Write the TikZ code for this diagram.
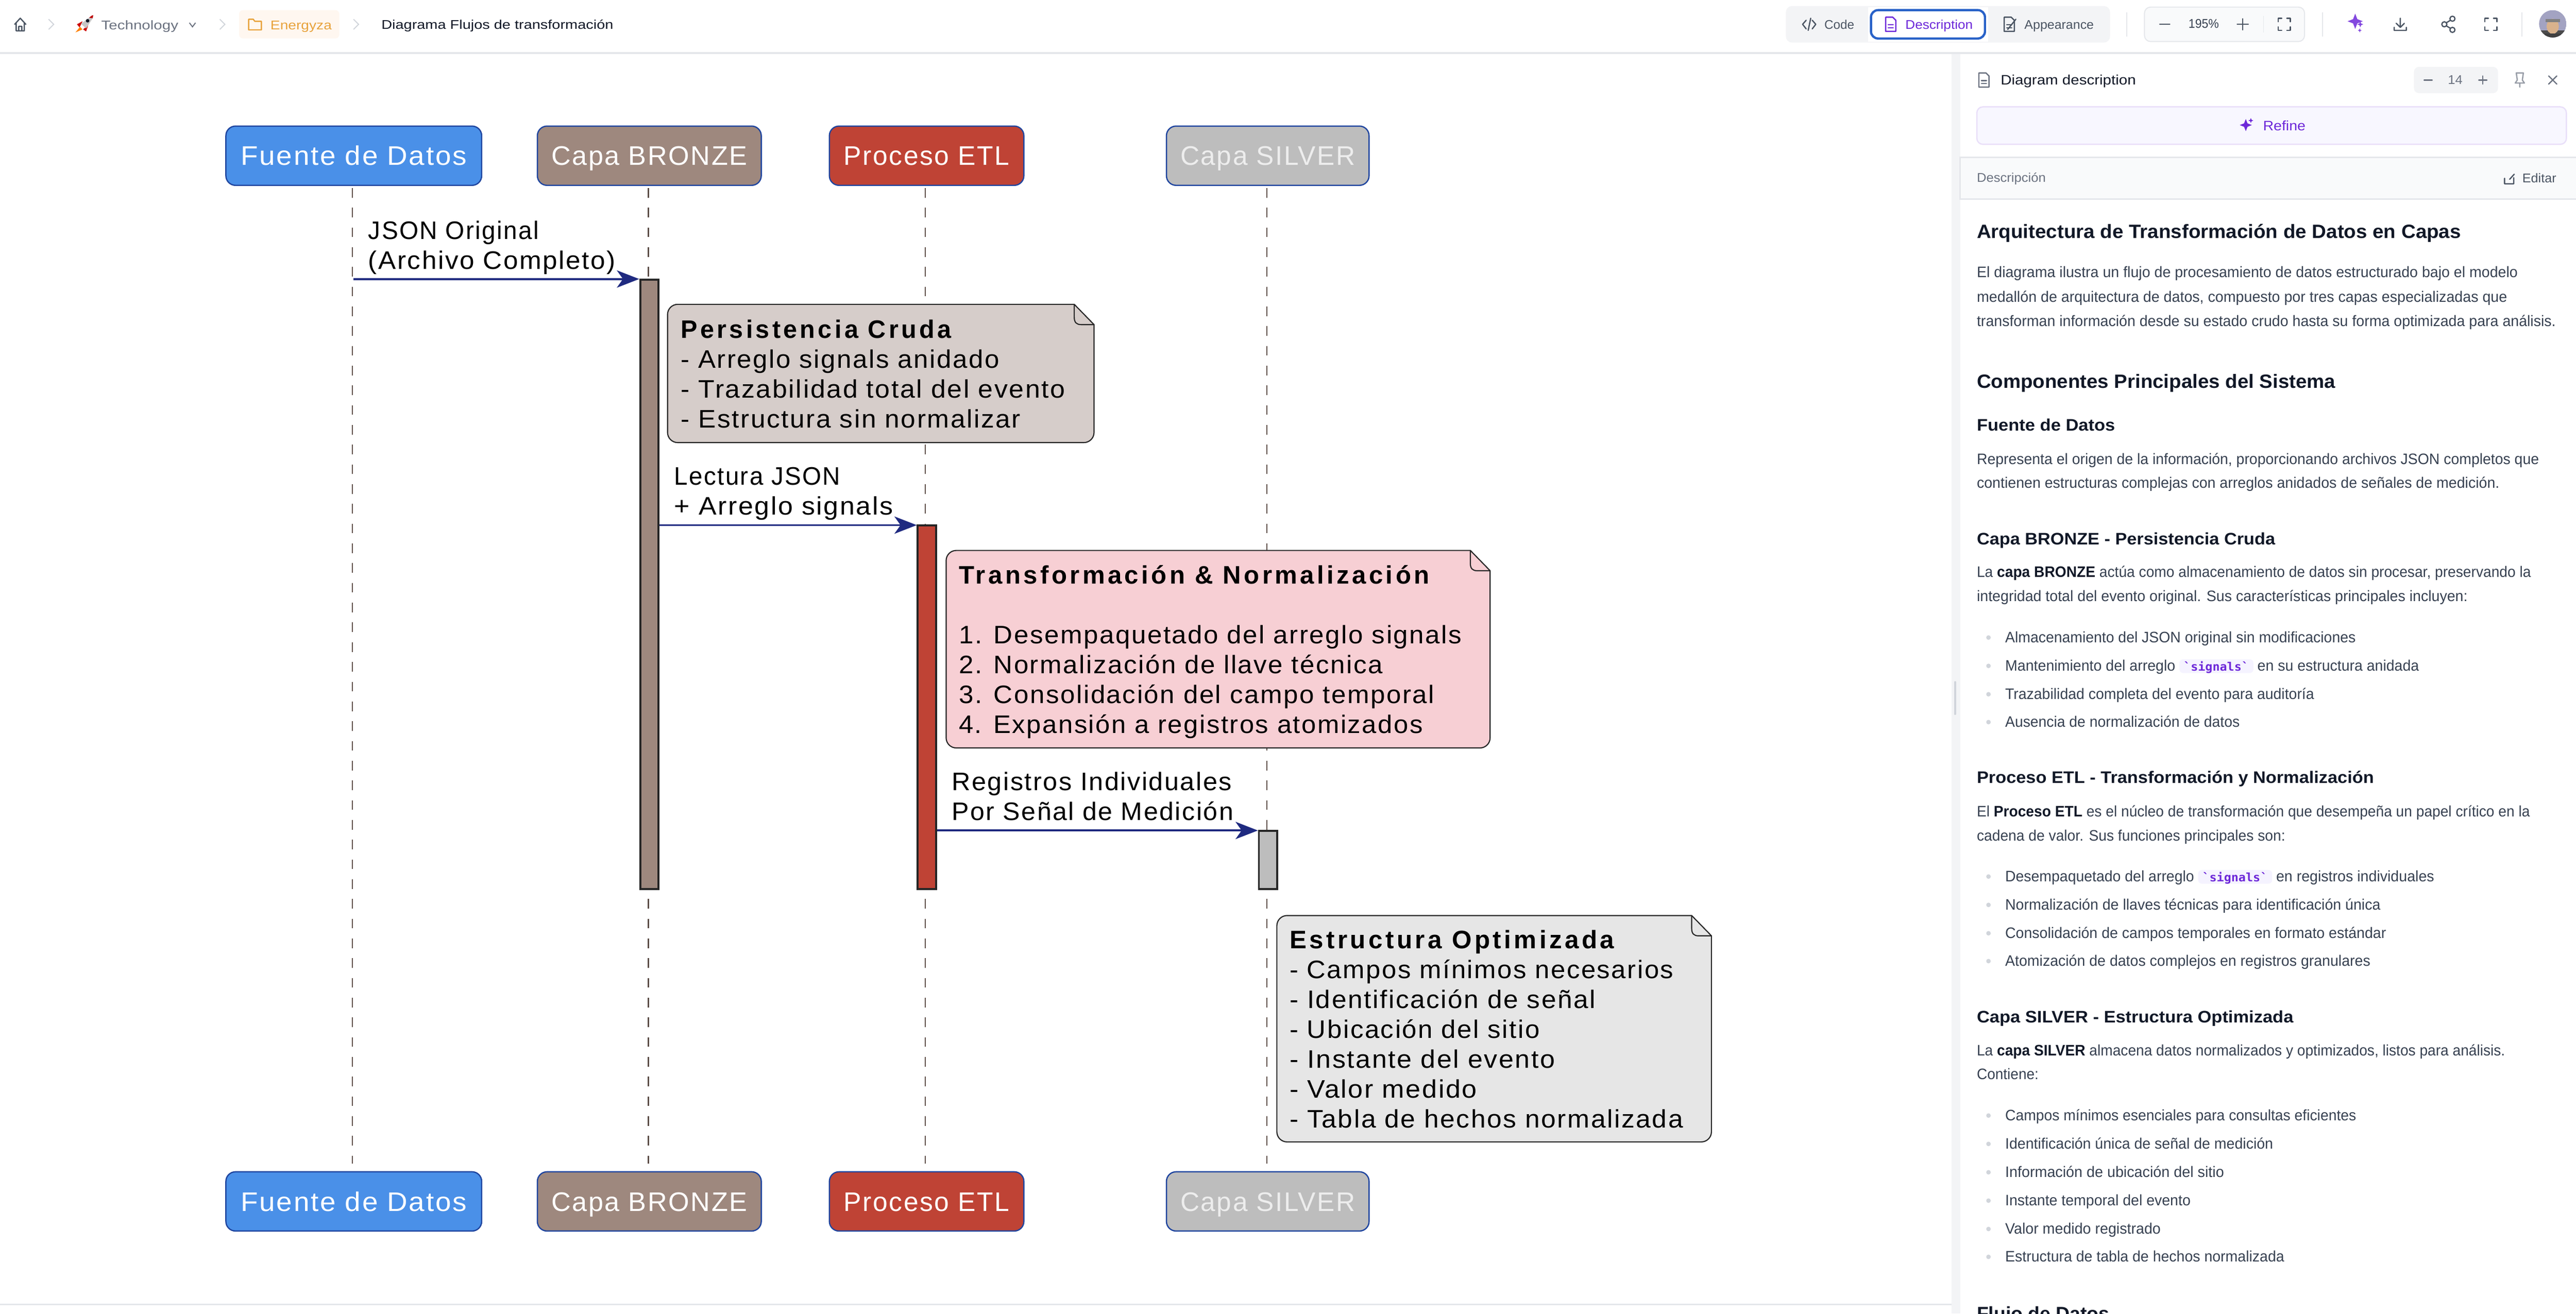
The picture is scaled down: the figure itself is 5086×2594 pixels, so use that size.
\documentclass[tikz,border=0pt]{standalone}
\usepackage{graphicx}
\usepackage{fontspec}
\setmainfont{Liberation Sans}
\newfontfamily\diag[LetterSpace=5]{Liberation Sans}
\newfontfamily\diagt[LetterSpace=11]{Liberation Sans}
\newfontfamily\chipf{DejaVu Sans Mono}
\usetikzlibrary{arrows.meta}
\definecolor{cblue}{HTML}{4A90E8}
\definecolor{cbrown}{HTML}{9E887E}
\definecolor{cred}{HTML}{BF4335}
\definecolor{csilver}{HTML}{BDBDBD}
\definecolor{cborder}{HTML}{1F459F}
\definecolor{cnavy}{HTML}{1F2A80}
\definecolor{clife}{HTML}{5D4E48}
\definecolor{nbronze}{HTML}{D6CDCA}
\definecolor{npink}{HTML}{F7CFD4}
\definecolor{ngray}{HTML}{E6E6E6}
\definecolor{uline}{HTML}{E5E7EB}
\definecolor{ugut}{HTML}{F3F4F6}
\definecolor{ubar}{HTML}{F9FAFB}
\definecolor{uhead}{HTML}{111827}
\definecolor{ubody}{HTML}{374151}
\definecolor{umute}{HTML}{6B7280}
\definecolor{uicon}{HTML}{4B5563}
\definecolor{ubull}{HTML}{D1D5DB}
\definecolor{upurple}{HTML}{6D28D9}
\definecolor{uchip}{HTML}{F5F3FF}
\definecolor{uorange}{HTML}{E8A33D}
\definecolor{uselect}{HTML}{2962C8}
\newcounter{tn}
% x, baseline, right end, style, text
\newcommand{\fitx}[5]{\stepcounter{tn}\pgfmathsetlengthmacro\fw{#3-#1}%
  \node[uitext,#4] (ft\arabic{tn}) at (#1,#2) {\resizebox{\fw}{\height}{#5}};}
\newcommand{\fitw}[2]{\resizebox{#1pt}{\height}{#2}}
\newcommand{\fitb}[2]{\resizebox{#1pt}{\height}{\diagt\bfseries #2}}
% left, top, right, bottom, fill
\newcommand{\notebox}[5]{%
  \draw[noteline,fill=#5] (#1+20,#2) -- (#3-39,#2) -- (#3,#2+40) -- (#3,#4-20) .. controls (#3,#4-9) and (#3-9,#4) .. (#3-20,#4) -- (#1+20,#4) .. controls (#1+9,#4) and (#1,#4-9) .. (#1,#4-20) -- (#1,#2+20) .. controls (#1,#2+9) and (#1+9,#2) .. (#1+20,#2) -- cycle;
  \draw[noteline] (#3-39,#2) -- (#3-39,#2+26) .. controls (#3-39,#2+36) and (#3-34,#2+40) .. (#3-26,#2+40) -- (#3,#2+40);}
\newcommand{\docic}[3]{\draw[icon,draw=#3] (#1-10,#2-14) -- (#1+4,#2-14) -- (#1+10,#2-8) -- (#1+10,#2+14) -- (#1-10,#2+14) -- cycle;
  \draw[icon,draw=#3] (#1-5,#2+1) -- (#1+5,#2+1) (#1-5,#2+7) -- (#1+5,#2+7);}
\newcommand{\fullic}[2]{\draw[icon,draw=uicon] (#1-12,#2-5) -- (#1-12,#2-12) -- (#1-5,#2-12) (#1+5,#2-12) -- (#1+12,#2-12) -- (#1+12,#2-5) (#1+12,#2+5) -- (#1+12,#2+12) -- (#1+5,#2+12) (#1-5,#2+12) -- (#1-12,#2+12) -- (#1-12,#2+5);}
\newcommand{\chev}[1]{\draw[line width=2pt,draw=ubull] (#1-5,38) -- (#1+5,48) -- (#1-5,58);}
\newcommand{\starc}[4]{\fill[#4] (#1,#2-#3) -- (#1+#3*.28,#2-#3*.28) -- (#1+#3,#2) -- (#1+#3*.28,#2+#3*.28) -- (#1,#2+#3) -- (#1-#3*.28,#2+#3*.28) -- (#1-#3,#2) -- (#1-#3*.28,#2-#3*.28) -- cycle;}
\tikzset{
  x=1pt,y=-1pt,
  lane/.style={draw=cborder,line width=2.5pt,rounded corners=19pt,inner sep=0pt,text=white,
    font=\fontsize{53}{59}\selectfont\diag,text height=38pt,text depth=0pt,minimum height=117pt},
  lifeline/.style={draw=clife,line width=2.5pt,dash pattern=on 19pt off 20pt},
  bar/.style={draw=black!85,line width=4pt,inner sep=0pt,minimum width=36pt},
  msg/.style={draw=cnavy,line width=4pt,-{Stealth[length=44pt,width=34pt,inset=12pt,fill=cnavy]}},
  lbl/.style={anchor=base west,align=left,inner sep=0pt,text=black,font=\fontsize{50}{59}\selectfont\diag},
  noteline/.style={draw=black!85,line width=2.2pt},
  uitext/.style={anchor=base west,inner sep=0pt,outer sep=0pt,text=ubody,font=\fontsize{30}{36}\selectfont},
  h1/.style={text=uhead,font=\fontsize{38}{40}\selectfont\bfseries},
  h3/.style={text=uhead,font=\fontsize{33}{36}\selectfont\bfseries},
  small/.style={font=\fontsize{25}{30}\selectfont},
  icon/.style={line width=2.5pt,line join=round,line cap=round,draw=uicon},
}
\begin{document}
\begin{tikzpicture}
\useasboundingbox (0,0) rectangle (5086,2594);
\fill[white] (0,0) rectangle (5086,2594);
\begin{scope}
\clip (0,0) rectangle (5086,2594);
% --- window chrome
\draw[line width=4pt,draw=uline] (0,105) -- (5086,105);
\draw[line width=3pt,draw=uline] (0,2576) -- (3853,2576);
\fill[ugut] (3853,107) rectangle (3870,2594);
\draw[line width=4pt,draw=ubull,line cap=round] (3860,1347) -- (3860,1410);
% breadcrumb
\draw[icon] (29,48) -- (40,36) -- (51,48) (32,46) -- (32,61) -- (48,61) -- (48,46) (37,61) -- (37,52) -- (43,52) -- (43,61);
\chev{101}
\fill[red!80!black] (163,42) -- (152,48) -- (157,54) -- cycle;
\fill[red!80!black] (174,50) -- (170,62) -- (164,58) -- cycle;
\fill[orange] (158,53) -- (149,64) -- (163,58) -- cycle;
\fill[gray!45] (181,31) -- (184,30) -- (183,36) -- (170,56) -- (160,47) -- cycle;
\fill[red!75!black] (181,31) -- (184,30) -- (183,36) -- (176,35) -- cycle;
\fill[uhead] (173,41) circle (3.5pt);
\fitx{200}{58}{352}{small,text=umute}{Technology}
\draw[line width=2pt,draw=umute] (374,45) -- (380,53) -- (386,45);
\chev{439}
\fill[orange!6,rounded corners=8pt] (472,20) rectangle (670,76);
\draw[icon,draw=uorange] (491,42) -- (491,38) -- (500,38) -- (503,42) -- (516,42) -- (516,59) -- (491,59) -- cycle;
\fitx{534}{58}{655}{small,text=uorange}{Energyza}
\chev{703}
\fitx{753}{57}{1211}{small,text=uhead}{Diagrama Flujos de transformación}
% toolbar
\fill[ugut,rounded corners=12pt] (3526,12) rectangle (4166,84);
\fill[white] (3688,14) rectangle (3925,82);
\draw[draw=uselect,fill=white,line width=4.5pt,rounded corners=14pt] (3694,20) rectangle (3919,76);
\draw[icon] (3566,40) -- (3559,48) -- (3566,57) (3578,40) -- (3585,48) -- (3578,57) (3575,36) -- (3570,60);
\fitx{3602}{57}{3661}{small,text=uicon}{Code}
\docic{3733}{48}{upurple}
\fitx{3762}{57}{3895}{small,text=upurple}{Description}
\docic{3967}{48}{uicon}
\draw[icon] (3964,58) -- (3980,38);
\fitx{3997}{57}{4134}{small,text=uicon}{Appearance}
\draw[line width=2pt,draw=uline] (4199,24) -- (4199,72) (4585,24) -- (4585,72) (4979,24) -- (4979,72);
\draw[draw=uline,fill=ubar,line width=2pt,rounded corners=12pt] (4234,14) rectangle (4550,82);
\draw[icon] (4264,48) -- (4284,48) (4417,48) -- (4439,48) (4428,37) -- (4428,59);
\fitx{4321}{55}{4381}{small}{195\%}
\draw[line width=2pt,draw=uline] (4469,32) -- (4469,64);
\fullic{4510}{48}
\starc{4650}{42}{15}{upurple!85!white}
\starc{4660}{48}{6}{upurple!85!white}
\starc{4659}{60}{4}{upurple!85!white}
\draw[icon] (4739,36) -- (4739,53) (4731,46) -- (4739,54) -- (4747,46) (4727,54) -- (4727,60) -- (4751,60) -- (4751,54);
\draw[icon] (4826,48) circle (5pt) (4842,37) circle (5pt) (4842,59) circle (5pt) (4830,45) -- (4838,40) (4830,51) -- (4838,56);
\fullic{4918}{48}
\begin{scope}
\clip (5040,47) circle (27pt);
\fill[blue!20!gray!60] (5013,20) rectangle (5067,74);
\fill[gray!60!black] (5013,60) rectangle (5067,74);
\fill[brown!60!white] (5040,52) ellipse (12pt and 15pt);
\fill[gray] (5026,38) rectangle (5054,44);
\fill[black!75] (5024,66) rectangle (5056,74);
\end{scope}
% panel head
\docic{3917}{158}{umute}
\fitx{3950}{167}{4217}{text=uhead,font=\fontsize{27}{30}\selectfont}{Diagram description}
\fill[ugut,rounded corners=10pt] (4766,132) rectangle (4932,184);
\draw[icon,draw=umute] (4786,158) -- (4802,158) (4894,158) -- (4910,158) (4902,150) -- (4902,166);
\fitx{4833}{166}{4862}{small,text=umute}{14}
\draw[icon,draw=umute!70] (4968,144) -- (4982,144) -- (4980,158) -- (4984,164) -- (4966,164) -- (4970,158) -- cycle (4975,164) -- (4975,172);
\draw[icon,draw=umute] (5032,150) -- (5048,166) (5048,150) -- (5032,166);
\draw[draw=upurple!15,fill=uchip!70!white,line width=2.5pt,rounded corners=12pt] (3903,211) rectangle (5067,285);
\starc{4434}{247}{12}{upurple}
\starc{4444}{238}{5}{upurple}
\fitx{4468}{258}{4552}{text=upurple,font=\fontsize{27}{30}\selectfont}{Refine}
\draw[draw=uline,fill=ubar,line width=3pt] (3870,311) rectangle (5090,393);
\fitx{3903}{360}{4039}{small,text=umute}{Descripción}
\draw[icon] (4945,352) -- (4945,363) -- (4963,363) -- (4963,351) (4955,354) -- (4964,344);
\fitx{4980}{361}{5047}{small,text=uicon}{Editar}
% panel text
\fitx{3903}{470}{4859}{h1}{Arquitectura de Transformación de Datos en Capas}
\fitx{3903}{548}{4971}{}{El diagrama ilustra un flujo de procesamiento de datos estructurado bajo el modelo}
\fitx{3903}{597}{4950}{}{medallón de arquitectura de datos, compuesto por tres capas especializadas que}
\fitx{3903}{644}{5046}{}{transforman información desde su estado crudo hasta su forma optimizada para análisis.}
\fitx{3903}{766}{4611}{h1}{Componentes Principales del Sistema}
\fitx{3903}{851}{4176}{h3}{Fuente de Datos}
\fitx{3903}{917}{5013}{}{Representa el origen de la información, proporcionando archivos JSON completos que}
\fitx{3903}{964}{4935}{}{contienen estructuras complejas con arreglos anidados de señales de medición.}
\fitx{3903}{1076}{4492}{h3}{Capa BRONZE - Persistencia Cruda}
\fitx{3903}{1140}{4997}{}{La {\bfseries\color{uhead}capa BRONZE} actúa como almacenamiento de datos sin procesar, preservando la}
\fitx{3903}{1188}{4872}{}{integridad total del evento original. Sus características principales incluyen:}
\foreach \yy in {1259,1315,1371,1426,1731,1787,1843,1898,2203,2259,2315,2371,2427,2482}{\fill[ubull] (3926,\yy) circle (4.5pt);}
\fitx{3959}{1269}{4651}{}{Almacenamiento del JSON original sin modificaciones}
\fitx{3959}{1325}{4295}{}{Mantenimiento del arreglo}
\fill[uchip,rounded corners=7pt] (4303,1302) rectangle (4449,1329);
\fitx{4311}{1325}{4440}{text=upurple,font=\fontsize{23}{26}\selectfont\chipf\bfseries}{`signals`}
\fitx{4457}{1325}{4776}{}{en su estructura anidada}
\fitx{3959}{1381}{4569}{}{Trazabilidad completa del evento para auditoría}
\fitx{3959}{1436}{4422}{}{Ausencia de normalización de datos}
\fitx{3903}{1547}{4687}{h3}{Proceso ETL - Transformación y Normalización}
\fitx{3903}{1613}{4995}{}{El {\bfseries\color{uhead}Proceso ETL} es el núcleo de transformación que desempeña un papel crítico en la}
\fitx{3903}{1661}{4512}{}{cadena de valor. Sus funciones principales son:}
\fitx{3959}{1741}{4332}{}{Desempaquetado del arreglo}
\fill[uchip,rounded corners=7pt] (4340,1718) rectangle (4486,1745);
\fitx{4348}{1741}{4477}{text=upurple,font=\fontsize{23}{26}\selectfont\chipf\bfseries}{`signals`}
\fitx{4494}{1741}{4806}{}{en registros individuales}
\fitx{3959}{1797}{4700}{}{Normalización de llaves técnicas para identificación única}
\fitx{3959}{1853}{4711}{}{Consolidación de campos temporales en formato estándar}
\fitx{3959}{1908}{4680}{}{Atomización de datos complejos en registros granulares}
\fitx{3903}{2020}{4528}{h3}{Capa SILVER - Estructura Optimizada}
\fitx{3903}{2085}{4946}{}{La {\bfseries\color{uhead}capa SILVER} almacena datos normalizados y optimizados, listos para análisis.}
\fitx{3903}{2132}{4025}{}{Contiene:}
\fitx{3959}{2213}{4652}{}{Campos mínimos esenciales para consultas eficientes}
\fitx{3959}{2269}{4488}{}{Identificación única de señal de medición}
\fitx{3959}{2325}{4391}{}{Información de ubicación del sitio}
\fitx{3959}{2381}{4325}{}{Instante temporal del evento}
\fitx{3959}{2437}{4266}{}{Valor medido registrado}
\fitx{3959}{2492}{4510}{}{Estructura de tabla de hechos normalizada}
\fitx{3903}{2608}{4165}{h1}{Flujo de Datos}
% --- sequence diagram
\node[lane,fill=cblue,minimum width=505pt] (ftop) at (698.5,307.5) {\fitw{446}{Fuente de Datos}};
\node[lane,fill=cbrown,minimum width=442pt] (btop) at (1282,307.5) {\fitw{387}{Capa BRONZE}};
\node[lane,fill=cred,minimum width=384pt] (ptop) at (1829.5,307.5) {\fitw{327}{Proceso ETL}};
\node[lane,fill=csilver,minimum width=400pt,text=white!93!black] (stop) at (2503,307.5) {\fitw{345}{Capa SILVER}};
\node[lane,fill=cblue,minimum width=505pt] (fbot) at (698.5,2372.5) {\fitw{446}{Fuente de Datos}};
\node[lane,fill=cbrown,minimum width=442pt] (bbot) at (1282,2372.5) {\fitw{387}{Capa BRONZE}};
\node[lane,fill=cred,minimum width=384pt] (pbot) at (1829.5,2372.5) {\fitw{327}{Proceso ETL}};
\node[lane,fill=csilver,minimum width=400pt,text=white!93!black] (sbot) at (2503,2372.5) {\fitw{345}{Capa SILVER}};
\draw[lifeline] ([xshift=-3pt,yshift=-4pt]ftop.south) -- ([xshift=-3pt,yshift=15pt]fbot.north);
\draw[lifeline] ([xshift=-2pt,yshift=-4pt]btop.south) -- ([xshift=-2pt,yshift=15pt]bbot.north);
\draw[lifeline] ([xshift=-2.5pt,yshift=-4pt]ptop.south) -- ([xshift=-2.5pt,yshift=15pt]pbot.north);
\draw[lifeline] ([xshift=-2pt,yshift=-4pt]stop.south) -- ([xshift=-2pt,yshift=15pt]sbot.north);
\node[bar,fill=cbrown,minimum height=1204pt] (abronze) at (1282,1154) {};
\node[bar,fill=cred,minimum height=718pt] (aetl) at (1830,1397) {};
\node[bar,fill=csilver,minimum height=115pt] (asilver) at (2503.5,1698.5) {};
\coordinate (src) at (698,551);
\draw[msg] (src) -- (src -| abronze.west);
\draw[msg] (abronze.east |- 0,1037) -- (aetl.west |- 0,1037);
\draw[msg] (aetl.east |- 0,1640) -- (asilver.west |- 0,1640);
\node[lbl] (l1) at (727,531) {\fitw{337}{JSON Original}\\\fitw{488}{(Archivo Completo)}};
\node[lbl] (l2) at (1331,1017) {\fitw{328}{Lectura JSON}\\\fitw{432}{+ Arreglo signals}};
\node[lbl] (l3) at (1879,1620) {\fitw{553}{Registros Individuales}\\\fitw{556}{Por Señal de Medición}};
\notebox{1318}{601}{2160}{874}{nbronze}
\notebox{1868}{1087}{2942}{1477}{npink}
\notebox{2521}{1808}{3379}{2255}{ngray}
\node[lbl] (n1) at (1344,845) {\fitb{534}{Persistencia Cruda}\\\fitw{629}{- Arreglo signals anidado}\\\fitw{759}{- Trazabilidad total del evento}\\\fitw{671}{- Estructura sin normalizar}};
\node[lbl] (n2) at (1893,1448) {\fitb{929}{Transformación \& Normalización}\\[59pt]\fitw{993}{1. Desempaquetado del arreglo signals}\\\fitw{837}{2. Normalización de llave técnica}\\\fitw{939}{3. Consolidación del campo temporal}\\\fitw{916}{4. Expansión a registros atomizados}};
\node[lbl] (n3) at (2546,2227) {\fitb{641}{Estructura Optimizada}\\\fitw{758}{- Campos mínimos necesarios}\\\fitw{604}{- Identificación de señal}\\\fitw{494}{- Ubicación del sitio}\\\fitw{524}{- Instante del evento}\\\fitw{370}{- Valor medido}\\\fitw{777}{- Tabla de hechos normalizada}};
\end{scope}
\end{tikzpicture}
\end{document}
